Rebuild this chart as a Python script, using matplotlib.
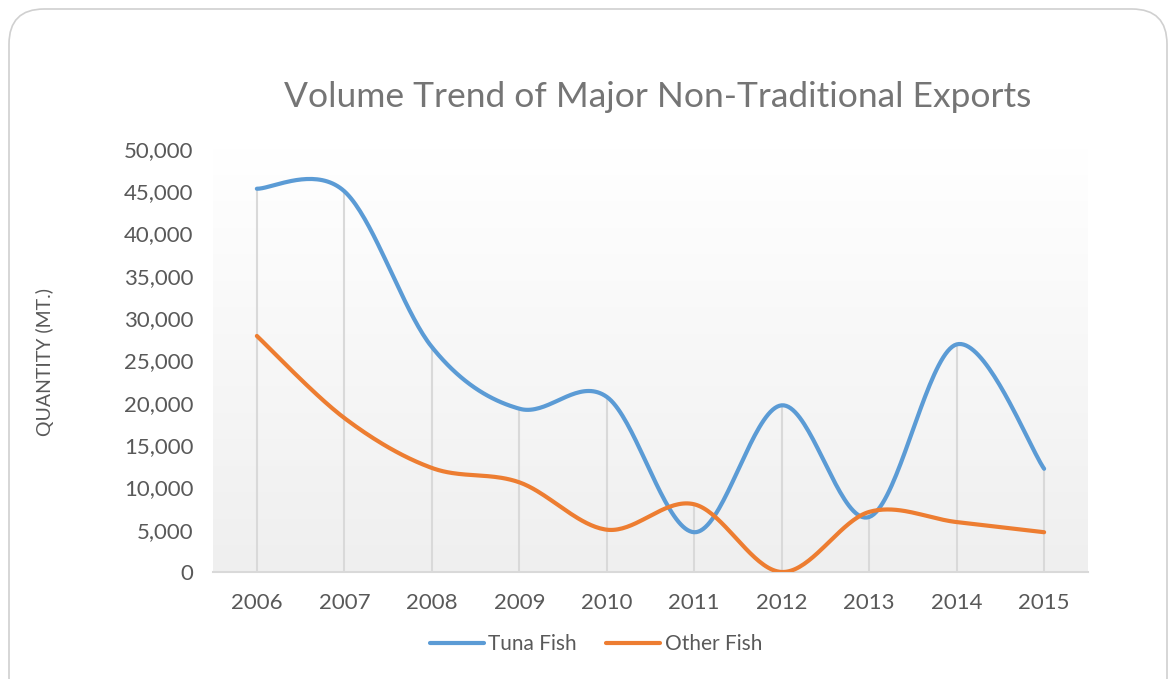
import numpy as np
import matplotlib.pyplot as plt
from matplotlib.patches import FancyBboxPatch

years = [2006, 2007, 2008, 2009, 2010, 2011, 2012, 2013, 2014, 2015]
tuna_fish = [45300, 45000, 26600, 19300, 20700, 4700, 19700, 6500, 26900, 12200]
other_fish = [27900, 18200, 12300, 10600, 5000, 8000, 0, 7100, 5900, 4700]
y_ticks = [0, 5000, 10000, 15000, 20000, 25000, 30000, 35000, 40000, 45000, 50000]

BLUE = '#5B9BD5'
ORANGE = '#ED7D31'
GRAY_TXT = '#595959'

plt.rcParams['font.family'] = ['Lato', 'DejaVu Sans']


def smooth(xs, ys, n=40):
    # bezier smoothing like the office "smoothed line" option
    xs = np.asarray(xs, float)
    ys = np.asarray(ys, float)
    px, py = [], []
    for i in range(len(xs) - 1):
        i0 = max(i - 1, 0)
        i3 = min(i + 2, len(xs) - 1)
        c1x = xs[i] + (xs[i + 1] - xs[i0]) / 6
        c1y = ys[i] + (ys[i + 1] - ys[i0]) / 6
        c2x = xs[i + 1] - (xs[i3] - xs[i]) / 6
        c2y = ys[i + 1] - (ys[i3] - ys[i]) / 6
        t = np.linspace(0, 1, n)
        bx = (1-t)**3*xs[i] + 3*(1-t)**2*t*c1x + 3*(1-t)*t**2*c2x + t**3*xs[i+1]
        by = (1-t)**3*ys[i] + 3*(1-t)**2*t*c1y + 3*(1-t)*t**2*c2y + t**3*ys[i+1]
        px.extend(bx)
        py.extend(by)
    return np.array(px), np.array(py)


fig = plt.figure(figsize=(11.71, 6.79), dpi=100)

# rounded frame around the chart
frame = FancyBboxPatch((9/1171, -0.05), 1158/1171, 1 - 9/679 + 0.05,
                       boxstyle='round,pad=0,rounding_size=0.03',
                       transform=fig.transFigure, fc='white', ec='#d0d0d0', lw=1.2,
                       mutation_aspect=1171/679, zorder=-5)
fig.add_artist(frame)

ax = fig.add_axes([0.182, 0.1576, 0.747, 0.623])
ax.set_zorder(2)
ax.patch.set_visible(False)
ax.set_xlim(2005.5, 2015.5)
ax.set_ylim(0, 50000)

# soft gradient background, white on top, light grey at the bottom
grad = np.linspace(0, 1, 256).reshape(-1, 1)
ax.imshow(grad, extent=[2005.5, 2015.5, 0, 50000], aspect='auto', origin='upper',
          cmap=plt.matplotlib.colors.LinearSegmentedColormap.from_list('g', ['#ffffff', '#efefef']),
          zorder=0)

# drop lines
tops = np.maximum(tuna_fish, other_fish)
ax.vlines(years, 0, tops, color='#d9d9d9', lw=1.5, zorder=1)

tx, ty = smooth(years, tuna_fish)
ox, oy = smooth(years, other_fish)
ax.plot(tx, ty, color=BLUE, lw=3, solid_capstyle='round', zorder=3, label='Tuna Fish')
ax.plot(ox, oy, color=ORANGE, lw=3, solid_capstyle='round', zorder=3, label='Other Fish')

for s in ['top', 'right', 'left']:
    ax.spines[s].set_visible(False)
ax.spines['bottom'].set_color('#d9d9d9')
ax.spines['bottom'].set_linewidth(1.5)

ax.set_xticks(years)
ax.set_xticklabels([str(y) for y in years])
ax.set_yticks(y_ticks)
ax.set_yticklabels(['{:,}'.format(v) for v in y_ticks])
ax.tick_params(axis='both', length=0, labelsize=16, colors=GRAY_TXT)
ax.tick_params(axis='x', pad=15)
ax.tick_params(axis='y', pad=14)

fig.text(45/1171, 1 - 362/679, 'QUANTITY (MT.)', rotation=90, ha='center', va='center',
         fontsize=14, color=GRAY_TXT)
fig.text(658/1171, 1 - 97/679, 'Volume Trend of Major Non-Traditional Exports',
         ha='center', va='center', fontsize=25.5, color='#757575')

fig.legend(loc='center', bbox_to_anchor=(596/1171, 1 - 644/679), ncol=2, frameon=False,
           fontsize=15, labelcolor=GRAY_TXT, handlelength=2.6, handletextpad=0.2,
           columnspacing=1.4)

fig.savefig('out.png', dpi=100)
